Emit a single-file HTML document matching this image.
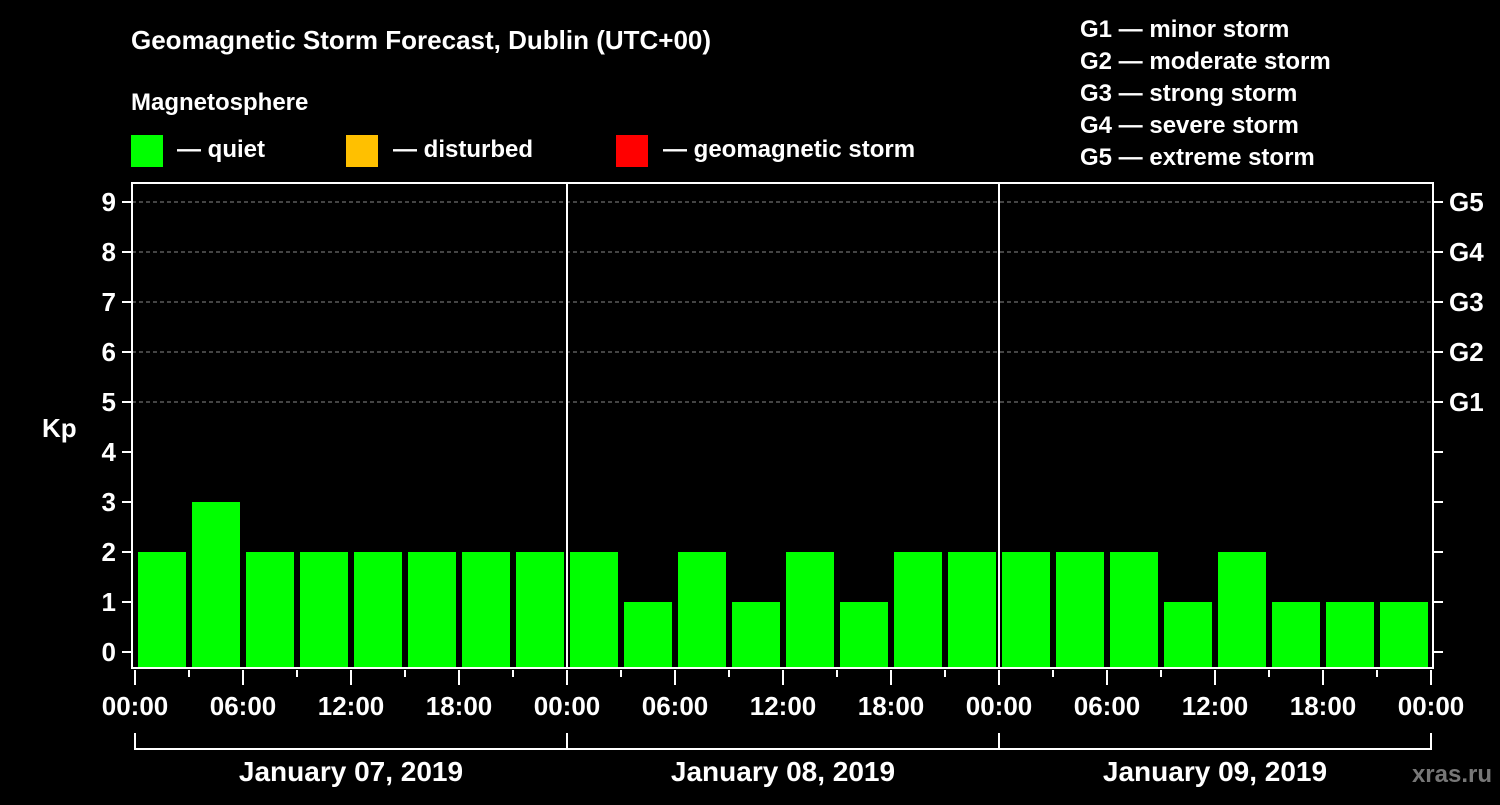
<!DOCTYPE html>
<html><head><meta charset="utf-8"><style>
body{margin:0;background:#000;width:1500px;height:800px;overflow:hidden}
svg text{font-family:"Liberation Sans",Arial,sans-serif;font-weight:bold;fill:#fff}
</style></head><body>
<svg id="c" width="1500" height="800" xmlns="http://www.w3.org/2000/svg">
<rect width="1500" height="800" fill="#000"/>
<text x="131" y="49" font-size="26">Geomagnetic Storm Forecast, Dublin (UTC+00)</text>
<text x="131" y="110" font-size="24">Magnetosphere</text>
<g><rect x="131" y="135" width="32" height="32" fill="#00ff00"/><text x="177" y="157" font-size="24">— quiet</text></g>
<g><rect x="346" y="135" width="32" height="32" fill="#ffc000"/><text x="393" y="157" font-size="24">— disturbed</text></g>
<g><rect x="616" y="135" width="32" height="32" fill="#ff0000"/><text x="663" y="157" font-size="24">— geomagnetic storm</text></g>
<g font-size="24">
<text x="1080" y="37">G1 — minor storm</text>
<text x="1080" y="69">G2 — moderate storm</text>
<text x="1080" y="101">G3 — strong storm</text>
<text x="1080" y="133">G4 — severe storm</text>
<text x="1080" y="165">G5 — extreme storm</text>
</g>
<text x="42" y="437" font-size="26">Kp</text>
<text x="1492" y="782" font-size="24" fill="#777" style="fill:#777" text-anchor="end">xras.ru</text>
<g id="plot"></g>
</svg>
<script>
const kpValues=[2,3,2,2,2,2,2,2,2,1,2,1,2,1,2,2,2,2,2,1,2,1,1,1];
const timeLabels=["00:00","06:00","12:00","18:00"];
const dayLabels=["January 07, 2019","January 08, 2019","January 09, 2019"];
const gLabels=["G1","G2","G3","G4","G5"];
const NS="http://www.w3.org/2000/svg";
const plot=document.getElementById('plot');
const X0=135,SLOT=54,Y0=652,UNIT=50,TOP=183,BOT=668,LEFT=132,RIGHT=1433;
const xs=i=>X0+i*SLOT;
const ys=v=>Y0-v*UNIT;
function mk(tag,attrs,txt){const e=document.createElementNS(NS,tag);for(const k in attrs)e.setAttribute(k,attrs[k]);if(txt!==undefined)e.textContent=txt;plot.appendChild(e);return e;}
// grid
for(let v=5;v<=9;v++){const g=mk('line',{x1:LEFT,x2:RIGHT,y1:ys(v),y2:ys(v),stroke:'#888','stroke-dasharray':'4,3','stroke-width':1});

}
// bars
kpValues.forEach((v,i)=>{const c=v>=5?'#ff0000':(v>=4?'#ffc000':'#00ff00');
const r=mk('rect',{x:xs(i)+3,y:ys(v),width:48,height:BOT-1-ys(v),fill:c});

});
// day separators
for(let d=1;d<3;d++){const l=mk('line',{x1:xs(d*8),x2:xs(d*8),y1:TOP,y2:BOT,stroke:'#fff','stroke-width':2});

}
// frame
const f=mk('rect',{x:LEFT,y:TOP,width:RIGHT-LEFT,height:BOT-TOP,fill:'none',stroke:'#fff','stroke-width':2});


// y ticks
for(let v=0;v<=9;v++){
mk('line',{x1:LEFT-10,x2:LEFT,y1:ys(v),y2:ys(v),stroke:'#fff','stroke-width':2});
mk('line',{x1:RIGHT,x2:RIGHT+10,y1:ys(v),y2:ys(v),stroke:'#fff','stroke-width':2});
const t=mk('text',{x:116,y:ys(v)+9,'font-size':26,'text-anchor':'end'},String(v));

}
gLabels.forEach((g,i)=>{const t=mk('text',{x:1449,y:ys(5+i)+9,'font-size':26},g);

});
// x ticks
for(let i=0;i<=24;i++){const major=i%2===0;
mk('line',{x1:xs(i),x2:xs(i),y1:BOT+2,y2:BOT+(major?17:9),stroke:'#fff','stroke-width':2});
if(major){const t=mk('text',{x:xs(i),y:715,'font-size':26,'text-anchor':'middle'},timeLabels[(i/2)%4]);

}}
// day brackets
mk('line',{x1:xs(0),x2:xs(24),y1:749,y2:749,stroke:'#fff','stroke-width':2});
for(let d=0;d<=3;d++)mk('line',{x1:xs(d*8),x2:xs(d*8),y1:733,y2:750,stroke:'#fff','stroke-width':2});
dayLabels.forEach((d,i)=>{const t=mk('text',{x:xs(i*8+4),y:781,'font-size':28,'text-anchor':'middle'},d);

});
</script>
</body></html>
